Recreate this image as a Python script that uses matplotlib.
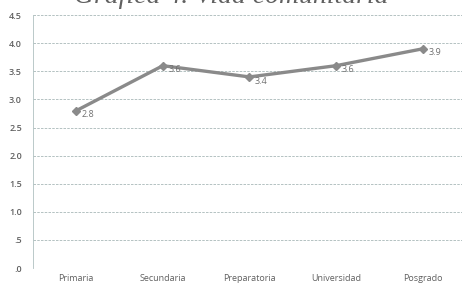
import matplotlib
matplotlib.use('Agg')
import matplotlib.pyplot as plt

# datos
niveles = ['Primaria', 'Secundaria', 'Preparatoria', 'Universidad', 'Posgrado']
valores = [2.8, 3.6, 3.4, 3.6, 3.9]
etiquetas = ['2.8', '3.6', '3.4', '3.6', '3.9']
ticks_y = [0, 0.5, 1.0, 1.5, 2.0, 2.5, 3.0, 3.5, 4.0, 4.5]
ticks_y_txt = ['.0', '.5', '1.0', '1.5', '2.0', '2.5', '3.0', '3.5', '4.0', '4.5']

fig = plt.figure(figsize=(4.62, 2.85), dpi=100)
ax = fig.add_axes([0.0714, 0.0596, 0.937, 0.8874])

x = list(range(len(niveles)))
ax.plot(x, valores, color='#8a8a8a', lw=2.4, marker='D', ms=4,
        markerfacecolor='#8a8a8a', markeredgecolor='#8a8a8a')

for i, v in enumerate(valores):
    ax.annotate(etiquetas[i], (i, v), xytext=(4, -3), textcoords='offset points',
                fontsize=6.5, color='#707070', family='Open Sans', va='center')

ax.set_xlim(-0.5, 4.5)
ax.set_ylim(0, 4.5)
ax.set_yticks(ticks_y)
ax.set_yticklabels(ticks_y_txt, fontsize=6.5, color='#606060', family='Open Sans',
                   fontweight='semibold')
ax.set_xticks(x)
ax.set_xticklabels(niveles, fontsize=6.5, color='#606060', family='Open Sans')
ax.tick_params(length=0, pad=8)
ax.tick_params(axis='x', pad=4)

ax.grid(axis='y', color='#a8b8b8', ls=(0, (3, 1.5)), lw=0.6)
for s in ['top', 'right', 'bottom']:
    ax.spines[s].set_visible(False)
ax.spines['left'].set_color('#b0c0c0')
ax.spines['left'].set_linewidth(0.6)

fig.text(0.5, 1 - 3 / 285, 'Gráfica 4. Vida comunitaria', ha='center', va='baseline',
         fontsize=20, style='italic', family='Liberation Serif', color='#606060')

fig.savefig('out.png', dpi=100)
